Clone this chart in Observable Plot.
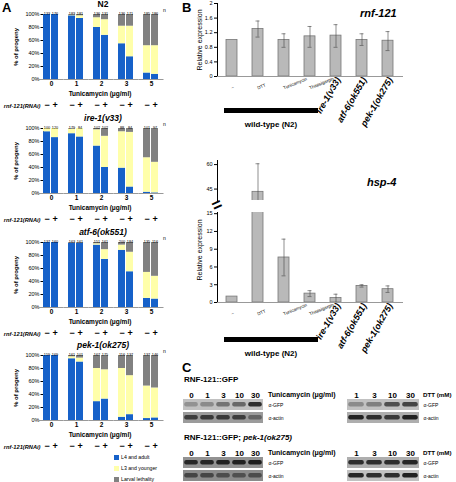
<!DOCTYPE html>
<html><head><meta charset="utf-8">
<script src="https://cdn.jsdelivr.net/npm/d3@7"></script>
<script src="https://cdn.jsdelivr.net/npm/@observablehq/plot@0.6"></script>
<style>
body{margin:0;background:#fff;font-family:"Liberation Sans",Arial,sans-serif;}
#root{position:relative;width:456px;height:482px;overflow:hidden;}
.abs{position:absolute;white-space:nowrap;line-height:1;color:#000;}
.p{position:absolute;line-height:0;}
</style></head><body><div id="root"></div>
<script>
// ---------- DATA ----------
const doses = ["0","1","2","3","5"];
const rnai = ["\u2212","+"];
const stages = ["L4 and adult","L3 and younger","Larval lethality"];
const stageColors = ["#1661c9","#ffffaa","#818181"];

const n2Blue   = [100,100, 98,94, 80,68, 55,35, 10,8];
const n2Yellow = [0,0, 1,4, 15,24, 27,47, 42,44];
const n2Gray   = [0,0, 1,2, 5,8, 18,18, 48,48];
const n2N      = [133,176, 183,181, 136,131, 136,171, 185,186];

const ireBlue   = [95,86, 92,87, 73,40, 39,10, 2,1];
const ireYellow = [5,14, 7,13, 25,48, 56,84, 53,47];
const ireGray   = [0,0, 1,0, 2,12, 5,6, 45,52];
const ireN      = [100,120, 179,84, 102,102, 88,84, 101,97];

const atfBlue   = [100,100, 99,99, 96,74, 88,55, 14,13];
const atfYellow = [0,0, 0,0, 2,15, 8,30, 40,35];
const atfGray   = [0,0, 1,1, 2,11, 4,15, 46,52];
const atfN      = [137,160, 163,161, 151,161, 200,184, 135,116];

const pekBlue   = [100,100, 95,90, 29,33, 5,9, 3,4];
const pekYellow = [0,0, 3,6, 51,45, 75,60, 50,46];
const pekGray   = [0,0, 2,4, 20,22, 20,31, 47,50];
const pekN      = [159,169, 161,101, 167,175, 116,137, 137,146];

const bCats = ["\u2212","DTT","Tunicamycin","Thapsigargin","ire-1(v33)","atf-6(ok551)","pek-1(ok275)"];
const rnfMean = [1.0, 1.30, 1.00, 1.10, 1.12, 1.00, 0.98];
const rnfLo   = [null, 1.08, 0.80, 0.80, 0.80, 0.85, 0.71];
const rnfHi   = [null, 1.52, 1.17, 1.37, 1.42, 1.17, 1.23];
const rnfTicks = [0, 0.4, 0.8, 1.2, 1.6, 2];

const hspMean = [1.0, 43.3, 7.6, 1.5, 0.75, 2.8, 2.25];
const hspLo   = [null, 25, 4.5, 1.0, 0.0, 2.6, 1.7];
const hspHi   = [null, 60.5, 10.7, 2.0, 1.4, 3.0, 2.8];
const hspTicksHigh = [45, 60];
const hspTicksLow = [0, 3, 6, 9, 12, 15];

const tunLanes = ["0","1","3","10","30"];
const dttLanes = ["1","3","10","30"];
const blotRows = ["\u03b1-GFP","\u03b1-actin"];
// band intensities (0 = blank, 1 = black)
const wtTunGFP   = [0.42,0.45,0.55,0.6,0.85];
const wtTunActin = [0.78,0.8,0.8,0.78,0.62];
const wtTunBg    = [0.22,0.38];
const wtDttGFP   = [0.45,0.5,0.7,0.75];
const wtDttActin = [0.9,0.85,0.8,0.9];
const wtDttBg    = [0.22,0.3];
const pekTunGFP   = [0.88,0.88,0.9,0.9,0.92];
const pekTunActin = [0.75,0.75,0.72,0.7,0.72];
const pekTunBg    = [0.42,0.45];
const pekDttGFP   = [0.85,0.85,0.85,0.88];
const pekDttActin = [0.88,0.85,0.85,0.9];
const pekDttBg    = [0.3,0.22];

// ---------- HELPERS ----------
const root = document.getElementById("root");
const FONT = "Liberation Sans, Arial, sans-serif";
function put(node, x, y){ const d=document.createElement("div"); d.className="p"; d.style.left=x+"px"; d.style.top=y+"px"; d.appendChild(node); root.appendChild(d); }
function label(html, x, y, o={}){
  const {size=7, weight="bold", style="normal", anchor="middle", rotate=0} = o;
  const d=document.createElement("div"); d.className="abs"; d.innerHTML=html;
  d.style.left=x+"px"; d.style.top=y+"px"; d.style.fontSize=size+"px"; d.style.fontWeight=weight; d.style.fontStyle=style;
  const tx = anchor==="middle"?"-50%":anchor==="end"?"-100%":"0";
  d.style.transform=`translate(${tx},-50%) rotate(${rotate}deg)`;
  root.appendChild(d);
}
function box(x,y,w,h,color){ const d=document.createElement("div"); d.style.cssText=`position:absolute;left:${x}px;top:${y}px;width:${w}px;height:${h}px;background:${color}`; root.appendChild(d); }

// ---------- PANEL A ----------
function panelA(blue, yellow, gray, ns){
  const rows = [];
  blue.forEach((b,i)=>{ const d=doses[Math.floor(i/2)], r=rnai[i%2];
    rows.push({dose:d, rnai:r, stage:stages[0], value:b});
    rows.push({dose:d, rnai:r, stage:stages[1], value:yellow[i]});
    rows.push({dose:d, rnai:r, stage:stages[2], value:gray[i]});
  });
  const labs = ns.map((n,i)=>({dose:doses[Math.floor(i/2)], rnai:rnai[i%2], n}));
  return Plot.plot({
    width: 172, height: 117, marginLeft: 42, marginRight: 12, marginTop: 12, marginBottom: 40,
    style: {fontFamily: FONT, fontSize: "5.5px", color: "#000", background: "transparent", overflow: "visible"},
    fx: {domain: doses, paddingInner: 0.36, paddingOuter: 0.04, axis: null, label: null},
    x: {domain: rnai, paddingInner: 0.07, paddingOuter: 0, axis: null},
    y: {domain: [0,100], ticks: [0,20,40,60,80,100], tickFormat: d => d + "%", tickSize: 2.5, tickPadding: 1.5, label: null, line: true},
    color: {domain: stages, range: stageColors},
    marks: [
      Plot.barY(rows, {fx: "dose", x: "rnai", y: "value", fill: "stage"}),
      Plot.ruleY([0], {stroke: "#999", insetLeft: -4.5, insetRight: -4.5}),
      Plot.text(labs, {fx: "dose", x: "rnai", text: "n", frameAnchor: "top", dy: -2.5, fontSize: 3.8}),
      Plot.text(doses, {fx: d => d, text: d => d, frameAnchor: "bottom", dy: 6.5, fontSize: 6.5, fontWeight: "bold"}),
      Plot.text(labs, {fx: "dose", x: "rnai", text: "rnai", frameAnchor: "bottom", dy: 28, fontSize: 9, fontWeight: "bold"})
    ]
  });
}
const aSets = [
  [n2Blue, n2Yellow, n2Gray, n2N, "N2", "normal"],
  [ireBlue, ireYellow, ireGray, ireN, "ire-1(v33)", "italic"],
  [atfBlue, atfYellow, atfGray, atfN, "atf-6(ok551)", "italic"],
  [pekBlue, pekYellow, pekGray, pekN, "pek-1(ok275)", "italic"]
];
const aTops = [14, 128, 242, 355];
aSets.forEach((s, k) => {
  const top = aTops[k];
  put(panelA(s[0], s[1], s[2], s[3]), 0, top - 12);
  label(s[4], 103, top - 10, {size: 8.5, style: s[5]});
  label("% of progeny", 16, top + 33, {size: 6, rotate: -90});
  label("Tunicamycin (\u03bcg/ml)", 100, top + 65 + 15, {size: 6.5});
  label("rnf-121(RNAi)", 40.5, top + 65 + 28, {size: 5.7, style: "italic", anchor: "end"});
  label("n", 163, top - 4, {size: 5, weight: "normal", anchor: "start"});
});
label("A", 2, 7, {size: 13, anchor: "start"});
// legend
stages.forEach((s,i) => {
  box(114, 455 + i*11, 4.5, 4.5, stageColors[i]);
  label(s, 121, 457.5 + i*11, {size: 5.2, weight: "normal", anchor: "start"});
});

// ---------- PANEL B ----------
function bPlot({mean, lo, hi, domain, ticks, height, marginTop, marginBottom, xLabels, baseline}){
  const rows = bCats.map((c,i)=>({cat:c, mean:mean[i], lo:lo[i], hi:hi[i]}));
  const err = rows.filter(d => d.lo != null);
  const marks = [];
  if (baseline) marks.push(Plot.ruleY([domain[0]], {stroke: "#999"}));
  marks.push(
    Plot.barY(rows, {x: "cat", y1: 0, y2: "mean", fill: "#b9b9b9", stroke: "#777", strokeWidth: 0.8, clip: true}),
    Plot.ruleX(err, {x: "cat", y1: "lo", y2: "hi", stroke: "#444", strokeWidth: 0.6, clip: true}),
    Plot.tickY(err, {x: "cat", y: "lo", insetLeft: 3.5, insetRight: 3.5, stroke: "#444", strokeWidth: 0.6, clip: true}),
    Plot.tickY(err, {x: "cat", y: "hi", insetLeft: 3.5, insetRight: 3.5, stroke: "#444", strokeWidth: 0.6, clip: true})
  );
  if (xLabels) marks.push(
    Plot.text(bCats.slice(0,4), {x: d => d, text: d => d, frameAnchor: "bottom", dy: 13, dx: 0, textAnchor: "start", rotate: -22, fontSize: 4.5}),
    Plot.text(bCats.slice(4), {x: d => d, text: d => d, frameAnchor: "bottom", dy: 3, dx: 5, textAnchor: "end", rotate: -60, fontSize: 9, fontWeight: "bold", fontStyle: "italic"})
  );
  return Plot.plot({
    width: 240, height, marginLeft: 41, marginRight: 13, marginTop, marginBottom,
    style: {fontFamily: FONT, fontSize: "5.5px", color: "#000", background: "transparent", overflow: "visible"},
    x: {domain: bCats, paddingInner: 0.566, paddingOuter: 0.31, axis: null},
    y: {domain, ticks, tickSize: 3, tickPadding: 2, line: true, label: null, tickFormat: d => String(d)},
    marks
  });
}
label("B", 182, 7, {size: 13, anchor: "start"});
put(bPlot({mean: rnfMean, lo: rnfLo, hi: rnfHi, domain: [0,2], ticks: rnfTicks, height: 138, marginTop: 5, marginBottom: 60, xLabels: true, baseline: true}), 176, -2);
label("rnf-121", 360, 13, {size: 11, style: "italic", anchor: "start"});
label("Relative expression", 199, 40, {size: 7, weight: "normal", rotate: -90});
box(224, 108, 94, 4.5, "#000");
label("wild-type (N2)", 271, 125, {size: 8});

put(bPlot({mean: hspMean, lo: hspLo, hi: hspHi, domain: [38, 62.5], ticks: hspTicksHigh, height: 45, marginTop: 4, marginBottom: 1, xLabels: false, baseline: false}), 176, 156);
put(bPlot({mean: hspMean, lo: hspLo, hi: hspHi, domain: [0, 15.2], ticks: hspTicksLow, height: 154, marginTop: 4, marginBottom: 60, xLabels: true, baseline: true}), 176, 208);
label("hsp-4", 367, 182, {size: 11, style: "italic", anchor: "start"});
label("Relative expression", 199, 250, {size: 7, weight: "normal", rotate: -90});
label("=", 217, 205, {size: 17, rotate: -25});
box(224, 337, 94, 4.5, "#000");
label("wild-type (N2)", 271, 354, {size: 8});

// ---------- PANEL C ----------
function blot(lanes, gfp, actin, bg, title, right, tsize){
  const cells = [], bands = [];
  lanes.forEach((l,i) => {
    cells.push({lane: l, row: blotRows[0], v: bg[0]});
    cells.push({lane: l, row: blotRows[1], v: bg[1]});
    bands.push({lane: l, row: blotRows[0], v: gfp[i]});
    bands.push({lane: l, row: blotRows[1], v: actin[i]});
  });
  const w = lanes.length * (lanes.length === 5 ? 16.8 : 18.5);
  return Plot.plot({
    width: w + right, height: 38, marginLeft: 0, marginRight: right, marginTop: 12, marginBottom: 0,
    style: {fontFamily: FONT, fontSize: "6px", color: "#000", background: "transparent", overflow: "visible"},
    x: {domain: lanes, padding: 0, axis: null},
    y: {domain: blotRows, paddingInner: 0.14, paddingOuter: 0, axis: null},
    color: {type: "linear", domain: [0,1], range: ["#f4f4f4", "#0a0a0a"]},
    marks: [
      Plot.cell(cells, {x: "lane", y: "row", fill: "v"}),
      Plot.cell(bands, {x: "lane", y: "row", fill: "v", insetTop: 3, insetBottom: 3.5, insetLeft: 1.2, insetRight: 1.2, rx: 2}),
      Plot.text(lanes, {x: d => d, text: d => d, frameAnchor: "top", dy: -6, fontSize: 8, fontWeight: "bold"}),
      Plot.text(blotRows, {y: d => d, text: d => d, frameAnchor: "right", dx: 3, textAnchor: "start", fontSize: 5}),
      Plot.text([title], {text: d => d, frameAnchor: "top-right", dx: 2.5, dy: -6, textAnchor: "start", fontSize: tsize, fontWeight: "bold"})
    ]
  });
}
label("C", 182, 367, {size: 13, anchor: "start"});
label("RNF-121::GFP", 184, 380, {size: 8, anchor: "start"});
put(blot(tunLanes, wtTunGFP, wtTunActin, wtTunBg, "Tunicamycin (\u03bcg/ml)", 76, 7), 181, 386);
put(blot(dttLanes, wtDttGFP, wtDttActin, wtDttBg, "DTT (mM)", 34, 6.2), 346, 386);
label("RNF-121::GFP; <i>pek-1(ok275)</i>", 184, 438, {size: 8, anchor: "start"});
put(blot(tunLanes, pekTunGFP, pekTunActin, pekTunBg, "Tunicamycin (\u03bcg/ml)", 76, 7), 181, 444);
put(blot(dttLanes, pekDttGFP, pekDttActin, pekDttBg, "DTT (mM)", 34, 6.2), 346, 444);
</script></body></html>
